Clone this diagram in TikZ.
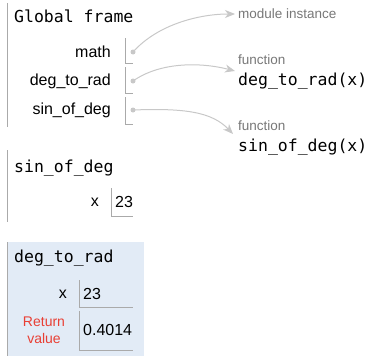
\documentclass[tikz,border=0pt]{standalone}
\usepackage{fontspec}
\setmainfont{Liberation Sans}
\newfontfamily\codefont{DejaVu Sans Mono}
\usetikzlibrary{arrows.meta}
\definecolor{frameline}{HTML}{AAAAAA}
\definecolor{ptr}{HTML}{C8C8C8}
\definecolor{hilite}{HTML}{E2EBF6}
\definecolor{retred}{HTML}{E93F34}
\definecolor{typegray}{HTML}{777777}
\tikzset{
  code/.style={inner sep=0pt, anchor=west, font=\codefont\fontsize{16.5}{18}\selectfont},
  varname/.style={inner sep=0pt, anchor=east, font=\fontsize{16}{18}\selectfont},
  val/.style={inner sep=0pt, anchor=west, font=\fontsize{16}{18}\selectfont},
  typelbl/.style={inner sep=0pt, anchor=west, text=typegray, font=\fontsize{13.5}{15}\selectfont},
  boxline/.style={draw=frameline, line width=0.8pt},
  fline/.style={draw=frameline, line width=1pt},
  pointer/.style={draw=ptr, line width=1pt, -{Stealth[length=10pt,width=8pt,inset=3pt]}},
  dot/.style={circle, fill=ptr, inner sep=0pt, minimum size=5pt}
}
\begin{document}
\begin{tikzpicture}[x=1pt,y=-1pt]
\useasboundingbox (0,0) rectangle (369,356);
% Global frame
\draw[fline] (7,3) -- (7,127);
\node[code] (gtitle) at (14,16) {Global frame};
\node[varname] (vmath) at (111,52) {math};
\node[varname] (vdeg) at (111,81) {deg\_to\_rad};
\node[varname] (vsin) at (111,110) {sin\_of\_deg};
\draw[boxline] (125,38) |- (133,63);
\draw[boxline] (125,67) |- (133,93);
\draw[boxline] (125,97) |- (133,124);
\node[dot] (dmath) at (133,52) {};
\node[dot] (ddeg) at (133,81) {};
\node[dot] (dsin) at (133,110) {};
% heap objects
\node[typelbl] (modinst) at (238,14) {module instance};
\node[typelbl] (f1lbl) at (238,60) {function};
\node[code] (f1) at (238,81) {deg\_to\_rad(x)};
\node[typelbl] (f2lbl) at (238,126) {function};
\node[code] (f2) at (238,147) {sin\_of\_deg(x)};
\coordinate (t1) at (235,14);
\coordinate (t2) at (235,71);
\coordinate (t3) at (233,134);
% pointers
\draw[pointer] (dmath.center) .. controls (158,24) and (200,14) .. (t1);
\draw[pointer] (ddeg.center) .. controls (160,62) and (200,62) .. (t2);
\draw[pointer] (dsin.center) .. controls (185,108) and (212,112) .. (t3);
% sin_of_deg frame
\draw[fline] (7,150) -- (7,222);
\node[code] (stitle) at (14,168) {sin\_of\_deg};
\node[varname] (sx) at (99,202) {x};
\draw[boxline] (111,188) |- (133,216);
\node[val] (sxv) at (115,202) {23};
% deg_to_rad frame (highlighted)
\fill[hilite] (7,242) rectangle (144,356);
\draw[fline] (7,242) -- (7,356);
\node[code] (dtitle) at (14,258) {deg\_to\_rad};
\node[varname] (dx) at (67,294) {x};
\draw[boxline] (79,280) |- (133,307);
\node[val] (dxv) at (83,294) {23};
\node[inner sep=0pt, align=center, text=retred, font=\fontsize{14}{17}\selectfont] (ret) at (44,330) {Return\\value};
\draw[boxline] (79,311) |- (133,350);
\node[val] (retv) at (83,330) {0.4014};
\end{tikzpicture}
\end{document}
